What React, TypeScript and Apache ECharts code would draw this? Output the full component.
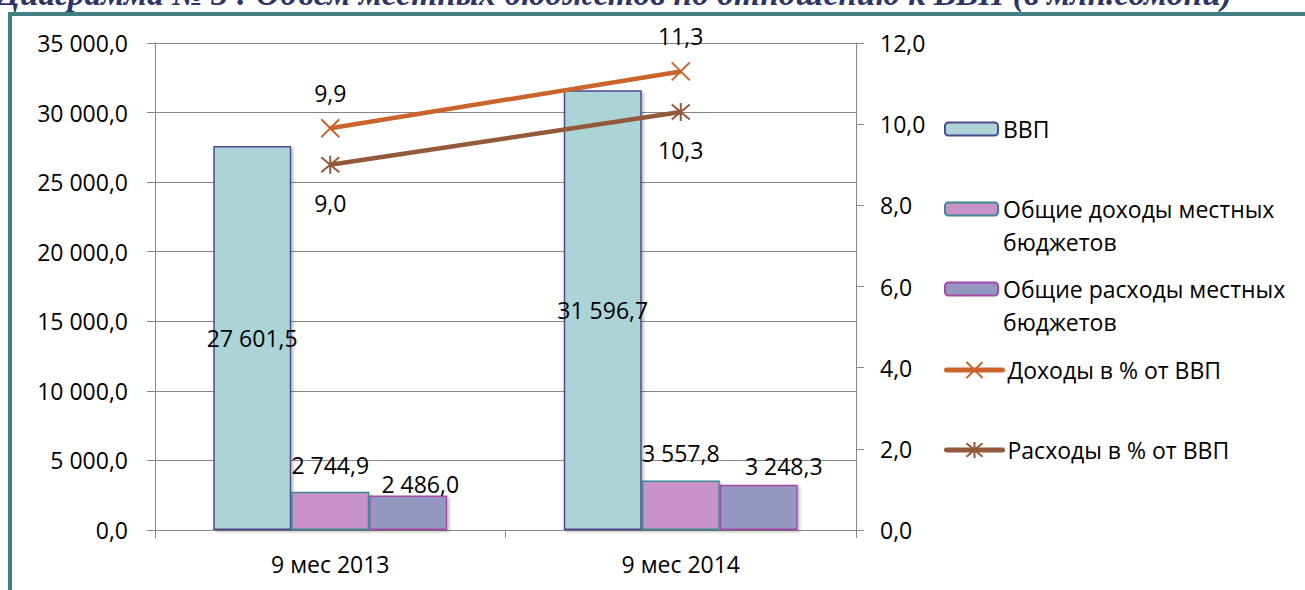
import React, { useEffect, useRef } from "react";
import * as echarts from "echarts";

const categories = ["9 мес 2013", "9 мес 2014"];
const gdp = [27601.5, 31596.7];
const revenues = [2744.9, 3557.8];
const expenses = [2486.0, 3248.3];
const revenuePct = [9.9, 11.3];
const expensePct = [9.0, 10.3];

const seriesNames = [
  "ВВП",
  "Общие доходы местных бюджетов",
  "Общие расходы местных бюджетов",
  "Доходы в % от ВВП",
  "Расходы в % от ВВП",
];
const legendFirstLines = ["ВВП", "Общие доходы местных", "Общие расходы местных", "Доходы в % от ВВП", "Расходы в % от ВВП"];
const legendSecondLine = "бюджетов";
const titleText = "Диаграмма № 3 : Объем местных бюджетов по отношению к ВВП (в млн.сомони)";

const FONT = "'Open Sans', 'Noto Sans', sans-serif";
const FS = 23;

function fmt(v: number): string {
  const s = Math.abs(v).toFixed(1);
  const [i, d] = s.split(".");
  const g = i.replace(/\B(?=(\d{3})+(?!\d))/g, " ");
  return (v < 0 ? "-" : "") + g + "," + d;
}

const X_PATH = "path://M0,0L10,10M10,0L0,10";
const STAR_PATH = "path://M0,0L10,10M10,0L0,10M5,-1L5,11";

// label placement styles (per bar item)
const revLabelDist = [15, 16];
const expLabelDist = [0, 7];
const expLabelShiftX = [12, 25];

export default function App() {
  const ref = useRef<HTMLDivElement>(null);
  useEffect(() => {
    if (!ref.current) return;
    const chart = echarts.init(ref.current, null, { renderer: "svg" });
    const textBase = { fontFamily: FONT, fontSize: FS, color: "#000" };
    const axisGray = "#868686";
    const legendCenters = [129, 209, 289, 370, 450];

    const legends = seriesNames.map((n, i) => ({
      data: [n],
      orient: "vertical",
      left: 944,
      top: legendCenters[i] - 14,
      padding: 0,
      itemGap: 0,
      selectedMode: false,
      itemWidth: i < 3 ? 53 : 56,
      itemHeight: i < 3 ? 13 : 20,
      lineStyle: { width: 5, cap: "round" },
      textStyle: { ...textBase, lineHeight: 28, padding: [0, 0, 0, 0] },
      formatter: () => legendFirstLines[i],
    }));

    const option: any = {
      animation: false,
      backgroundColor: "#fff",
      textStyle: { fontFamily: FONT },
      grid: { left: 155, right: 449, top: 43, bottom: 60, containLabel: false },
      legend: legends,
      xAxis: {
        type: "category",
        data: categories,
        axisLine: { lineStyle: { color: axisGray, width: 1 } },
        axisTick: { show: true, length: 8, lineStyle: { color: axisGray } },
        axisLabel: { ...textBase, margin: 22 },
        splitLine: { show: false },
      },
      yAxis: [
        {
          type: "value",
          min: 0,
          max: 35000,
          interval: 5000,
          axisLine: { show: true, lineStyle: { color: axisGray } },
          axisTick: { show: true, length: 8, lineStyle: { color: axisGray } },
          axisLabel: { ...textBase, margin: 27, formatter: (v: number) => fmt(v) },
          splitLine: { show: true, lineStyle: { color: axisGray, width: 1 } },
        },
        {
          type: "value",
          min: 0,
          max: 12,
          interval: 2,
          position: "right",
          axisLine: { show: true, lineStyle: { color: axisGray } },
          axisTick: { show: true, length: 8, lineStyle: { color: axisGray } },
          axisLabel: { ...textBase, margin: 24, formatter: (v: number) => fmt(v) },
          splitLine: { show: false },
        },
      ],
      series: [
        {
          name: seriesNames[0],
          type: "bar",
          barWidth: 78,
          barGap: "0%",
          data: gdp,
          itemStyle: {
            color: "#acd3d5",
            borderColor: "#4b4b8f",
            borderWidth: 1.5,
            shadowBlur: 3,
            shadowOffsetX: 2,
            shadowOffsetY: 2,
            shadowColor: "rgba(0,0,0,0.25)",
          },
          label: { show: true, position: "inside", ...textBase, formatter: (p: any) => fmt(p.value) },
          emphasis: { disabled: true },
        },
        {
          name: seriesNames[1],
          type: "bar",
          barWidth: 78,
          barGap: "0%",
          data: revenues.map((v, i) => ({
            value: v,
            label: { distance: revLabelDist[i] },
          })),
          itemStyle: {
            color: "#c993c9",
            borderColor: "#3b8a8f",
            borderWidth: 1.5,
            shadowBlur: 3,
            shadowOffsetX: 2,
            shadowOffsetY: 2,
            shadowColor: "rgba(0,0,0,0.25)",
          },
          label: { show: true, position: "top", ...textBase, formatter: (p: any) => fmt(p.value) },
          emphasis: { disabled: true },
        },
        {
          name: seriesNames[2],
          type: "bar",
          barWidth: 78,
          barGap: "0%",
          data: expenses.map((v, i) => ({
            value: v,
            label: { distance: expLabelDist[i], offset: [expLabelShiftX[i], 0] },
          })),
          itemStyle: {
            color: "#9497bf",
            borderColor: "#a54aa9",
            borderWidth: 1.5,
            shadowBlur: 3,
            shadowOffsetX: 2,
            shadowOffsetY: 2,
            shadowColor: "rgba(0,0,0,0.25)",
          },
          label: { show: true, position: "top", ...textBase, formatter: (p: any) => fmt(p.value) },
          emphasis: { disabled: true },
        },
        {
          name: seriesNames[3],
          type: "line",
          yAxisIndex: 1,
          data: revenuePct,
          symbol: X_PATH,
          symbolSize: 18,
          showAllSymbol: true,
          lineStyle: { color: "#cb642c", width: 4.5 },
          itemStyle: { color: "#cb642c", borderColor: "#cb642c", borderWidth: 2 },
          label: { show: true, position: "top", distance: 14, ...textBase, formatter: (p: any) => fmt(p.value) },
          emphasis: { disabled: true },
          z: 5,
        },
        {
          name: seriesNames[4],
          type: "line",
          yAxisIndex: 1,
          data: expensePct,
          symbol: STAR_PATH,
          symbolSize: 18,
          showAllSymbol: true,
          lineStyle: { color: "#94583a", width: 4.5 },
          itemStyle: { color: "#94583a", borderColor: "#94583a", borderWidth: 2 },
          label: { show: true, position: "bottom", distance: 17, ...textBase, formatter: (p: any) => fmt(p.value) },
          emphasis: { disabled: true },
          z: 5,
        },
      ],
      graphic: [
        {
          type: "text",
          left: -3,
          top: -24,
          silent: true,
          style: {
            text: titleText,
            fontFamily: "'Liberation Serif', 'DejaVu Serif', serif",
            fontStyle: "italic",
            fontWeight: "bold",
            fontSize: 33.5,
            fill: "#2d3468",
          },
        },
        {
          type: "rect",
          silent: true,
          shape: { x: 8, y: 12, width: 1297, height: 4 },
          style: { fill: "#437e81" },
        },
        {
          type: "rect",
          silent: true,
          shape: { x: 8, y: 12, width: 4, height: 578 },
          style: { fill: "#437e81" },
        },
        {
          type: "text",
          silent: true,
          x: 1003,
          y: 242,
          style: { text: legendSecondLine, ...textBase, fill: "#000", verticalAlign: "middle", align: "left" },
        },
        {
          type: "text",
          silent: true,
          x: 1003,
          y: 322,
          style: { text: legendSecondLine, ...textBase, fill: "#000", verticalAlign: "middle", align: "left" },
        },
      ],
    };
    chart.setOption(option);
    return () => chart.dispose();
  }, []);
  return (
    <div
      ref={ref}
      style={{ position: "absolute", left: 0, top: 0, width: 1305, height: 590 }}
    />
  );
}
